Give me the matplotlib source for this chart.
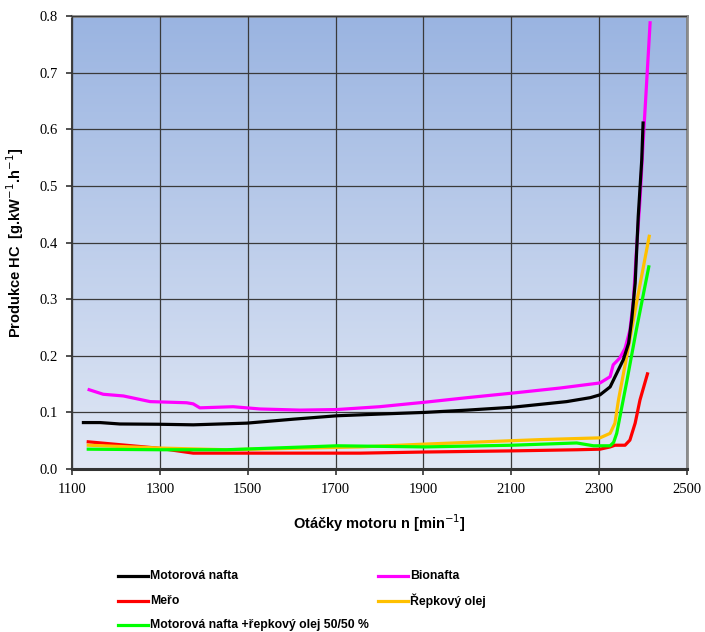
import numpy as np
import matplotlib
matplotlib.use("Agg")
import matplotlib.pyplot as plt
from matplotlib.colors import LinearSegmentedColormap
from matplotlib.lines import Line2D

# engine speed [min^-1] and HC production [g/kWh] per fuel
rpm_nafta = [1126, 1164, 1209, 1300, 1376, 1498, 1604, 1703, 1800, 1904, 2000, 2102,
             2226, 2280, 2302, 2325, 2340, 2355, 2367, 2374, 2382, 2389, 2397, 2400]
hc_nafta = [0.082, 0.082, 0.0795, 0.079, 0.078, 0.081, 0.088, 0.094, 0.097, 0.100, 0.104, 0.109,
            0.119, 0.126, 0.131, 0.145, 0.169, 0.193, 0.222, 0.263, 0.328, 0.446, 0.546, 0.611]

rpm_bionafta = [1139, 1171, 1217, 1278, 1361, 1376, 1391, 1467, 1528, 1619, 1703, 1800, 1904, 2000,
                2102, 2211, 2302, 2325, 2332, 2347, 2359, 2370, 2378, 2385, 2393, 2400, 2408, 2416]
hc_bionafta = [0.140, 0.132, 0.129, 0.119, 0.117, 0.115, 0.108, 0.110, 0.106, 0.104, 0.105, 0.110, 0.118, 0.126,
               0.134, 0.143, 0.152, 0.163, 0.184, 0.196, 0.213, 0.245, 0.298, 0.387, 0.475, 0.575, 0.681, 0.788]

rpm_mero = [1137, 1300, 1376, 1500, 1756, 1904, 2102, 2250, 2302, 2325, 2336, 2359, 2370, 2382, 2393, 2410]
hc_mero = [0.048, 0.0365, 0.028, 0.028, 0.028, 0.030, 0.032, 0.034, 0.035, 0.039, 0.042, 0.042,
           0.051, 0.081, 0.122, 0.168]

rpm_repka = [1137, 1300, 1452, 1756, 1904, 2102, 2170, 2302, 2325, 2336, 2344, 2363, 2385, 2414]
hc_repka = [0.042, 0.037, 0.034, 0.039, 0.044, 0.050, 0.052, 0.055, 0.063, 0.081, 0.122, 0.200, 0.293, 0.411]

rpm_smes = [1137, 1300, 1452, 1703, 1904, 2102, 2249, 2287, 2325, 2333, 2340, 2363, 2385, 2413]
hc_smes = [0.035, 0.034, 0.034, 0.041, 0.039, 0.042, 0.046, 0.041, 0.041, 0.047, 0.063, 0.155, 0.247, 0.357]

x_ticks = [1100, 1300, 1500, 1700, 1900, 2100, 2300, 2500]
y_ticks = [0.0, 0.1, 0.2, 0.3, 0.4, 0.5, 0.6, 0.7, 0.8]

W, H = 705, 632
fig = plt.figure(figsize=(W / 100, H / 100), dpi=100)
ax = fig.add_axes([72 / W, 1 - 469 / H, 615 / W, 453 / H])

# vertical gradient background of the plot area
bg = LinearSegmentedColormap.from_list("bg", ["#e1e8f5", "#9ab4e1"])
grad = np.linspace(0, 1, 256).reshape(-1, 1)
ax.imshow(grad, cmap=bg, aspect="auto", extent=[0, 1, 0, 1], origin="lower",
          transform=ax.transAxes, zorder=0)

lw = 2.3
series = [
    (rpm_nafta, hc_nafta, "black", "Motorová nafta", 5),
    (rpm_mero, hc_mero, "#ff0000", "Meřo", 3),
    (rpm_smes, hc_smes, "#00ff00", "Motorová nafta +řepkový olej 50/50 %", 4),
    (rpm_bionafta, hc_bionafta, "#ff00ff", "Bionafta", 3),
    (rpm_repka, hc_repka, "#ffc000", "Řepkový olej", 3),
]
for x, y, c, name, z in series:
    ax.plot(x, y, color=c, lw=lw, label=name, zorder=z)

ax.set_xlim(1100, 2500)
ax.set_ylim(0, 0.8)
ax.set_xticks(x_ticks)
ax.set_yticks(y_ticks)
ax.set_yticklabels([f"{v:.1f}" for v in y_ticks])
ax.grid(True, color="#3a3a3a", lw=0.9, zorder=1)
ax.set_axisbelow(False)

for lab in ax.get_xticklabels() + ax.get_yticklabels():
    lab.set_fontfamily("Liberation Serif")
    lab.set_fontsize(10.5)
ax.tick_params(axis="both", direction="out", length=4, width=1.2, color="#333333", pad=6)

ax.spines["left"].set_color("#404040")
ax.spines["left"].set_linewidth(1.5)
ax.spines["bottom"].set_color("#333333")
ax.spines["bottom"].set_linewidth(2.2)
ax.spines["top"].set_color("#8c8c8c")
ax.spines["top"].set_linewidth(2)
ax.spines["right"].set_color("#8c8c8c")
ax.spines["right"].set_linewidth(2)

sup = "$^{\\mathsf{-1}}$"
ax.set_xlabel("Otáčky motoru n [min" + sup + "]", fontfamily="Liberation Sans",
              fontweight="bold", fontsize=10.5, labelpad=12)
ax.set_ylabel("Produkce HC  [g.kW" + sup + ".h" + sup + "]", fontfamily="Liberation Sans",
              fontweight="bold", fontsize=10.5, labelpad=10)

# legend laid out in two columns below the plot, rows on a fixed pitch
slots = [(118, 576), (118, 601), (118, 625), (378, 576), (378, 601)]
for (x, y, c, name, z), (px, py) in zip(series, slots):
    fy = 1 - py / H
    fig.add_artist(Line2D([px / W, (px + 30) / W], [fy, fy], color=c, lw=lw,
                          transform=fig.transFigure))
    fig.text((px + 32) / W, fy, name, va="center", ha="left",
             fontfamily="Liberation Sans", fontweight="bold", fontsize=8.8)

fig.savefig("out.png", dpi=100)
